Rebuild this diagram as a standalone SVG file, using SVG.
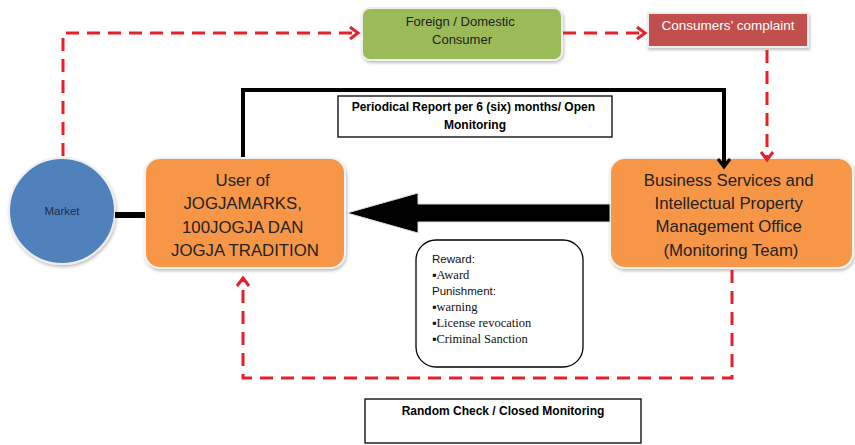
<svg xmlns="http://www.w3.org/2000/svg" width="855" height="445" viewBox="0 0 855 445">
<defs>
<style>
.sans{font-family:"Liberation Sans",Arial,sans-serif}
.serif{font-family:"Liberation Serif","Times New Roman",serif}
.dash{fill:none;stroke:#e5202a;stroke-width:3;stroke-dasharray:13 8}
.blk{fill:none;stroke:#000;stroke-width:4}
.orange{fill:#f79646;stroke:#f3f3f3;stroke-width:2}
.big{font-size:16.8px;fill:#222}
.bold{font-weight:bold;font-size:12px;fill:#000}
.box{fill:#fff;stroke:#000;stroke-width:1.3}
</style>
<filter id="sh" x="-10%" y="-10%" width="120%" height="130%">
<feDropShadow dx="1" dy="2" stdDeviation="1.5" flood-color="#000" flood-opacity="0.25"/>
</filter>
<marker id="ra" markerWidth="14" markerHeight="14" refX="10" refY="7" orient="auto" markerUnits="userSpaceOnUse">
<path d="M2,1 L10,7 L2,13" fill="none" stroke="#e5202a" stroke-width="3"/>
</marker>
<marker id="ba" markerWidth="14" markerHeight="14" refX="10" refY="7" orient="auto" markerUnits="userSpaceOnUse">
<path d="M2,1 L10,7 L2,13" fill="none" stroke="#000" stroke-width="3"/>
</marker>
</defs>
<rect width="855" height="445" fill="#fff"/>

<g id="market">
<circle cx="62" cy="211" r="53" fill="#4f81bd" stroke="#eee" stroke-width="2" filter="url(#sh)"/>
<text x="62" y="215" class="sans" font-size="11.5" fill="#1f2d4d" text-anchor="middle">Market</text>
</g>

<g id="user">
<rect x="145" y="158" width="200" height="110" rx="15" class="orange" filter="url(#sh)"/>
<text class="sans big" text-anchor="middle">
<tspan x="245" y="186">User of</tspan>
<tspan x="245" y="209">JOGJAMARKS,</tspan>
<tspan x="245" y="233">100JOGJA DAN</tspan>
<tspan x="245" y="256">JOGJA TRADITION</tspan>
</text>
</g>

<g id="business">
<rect x="610" y="158" width="243" height="110" rx="15" class="orange" filter="url(#sh)"/>
<text class="sans big" text-anchor="middle">
<tspan x="731" y="186">Business Services and</tspan>
<tspan x="731" y="209">Intellectual Property</tspan>
<tspan x="731" y="232">Management Office</tspan>
<tspan x="731" y="256">(Monitoring Team)</tspan>
</text>
</g>

<g id="consumer">
<rect x="362" y="8" width="200" height="52" rx="8" fill="#9bbb59" stroke="#eee" stroke-width="2" filter="url(#sh)"/>
<text class="sans" font-size="13" fill="#222" text-anchor="middle">
<tspan x="462" y="26">Foreign / Domestic</tspan>
<tspan x="462" y="44">Consumer</tspan>
</text>
</g>

<g id="complaint">
<rect x="648" y="13" width="160" height="34" fill="#c0504d" stroke="#eee" stroke-width="2" filter="url(#sh)"/>
<text x="728" y="30" class="sans" font-size="13.5" fill="#fff" text-anchor="middle">Consumers’ complaint</text>
</g>

<g id="periodical">
<rect x="338" y="96" width="274" height="41" class="box"/>
<text class="sans bold" text-anchor="middle">
<tspan x="475" y="111">Periodical Report per 6 (six) months/ Open</tspan>
<tspan x="475" y="129">Monitoring</tspan>
</text>
</g>

<g id="reward">
<rect x="416" y="240" width="167" height="127" rx="20" class="box"/>
<text class="sans" font-size="11.5" fill="#111" x="432" y="263">Reward:</text>
<text class="serif" font-size="12.5" fill="#111" x="432" y="279">▪Award</text>
<text class="sans" font-size="11.5" fill="#111" x="432" y="295">Punishment:</text>
<text class="serif" font-size="12.5" fill="#111" x="432" y="311">▪warning</text>
<text class="serif" font-size="12.5" fill="#111" x="432" y="327">▪License revocation</text>
<text class="serif" font-size="12.5" fill="#111" x="432" y="343">▪Criminal Sanction</text>
</g>

<g id="random">
<rect x="365" y="399" width="276" height="44" class="box"/>
<text x="503" y="415" class="sans bold" text-anchor="middle">Random Check / Closed Monitoring</text>
</g>

<g id="connectors">
<path class="dash" d="M63,156 L63,33 L358,33" marker-end="url(#ra)"/>
<path class="dash" d="M563,33 L645,33" marker-end="url(#ra)"/>
<path class="dash" d="M767,50 L767,160" marker-end="url(#ra)"/>
<path class="dash" d="M732,270 L732,378 L243,378 L243,278" marker-end="url(#ra)"/>
<path class="blk" d="M243,157 L243,90 L724,90 L724,167" marker-end="url(#ba)"/>
<line x1="115" y1="215" x2="145" y2="215" stroke="#000" stroke-width="6"/>
<polygon points="347,213 418,193 418,204 610,204 610,222 418,222 418,233" fill="#000" stroke="#ddd" stroke-width="1"/>
</g>
</svg>
